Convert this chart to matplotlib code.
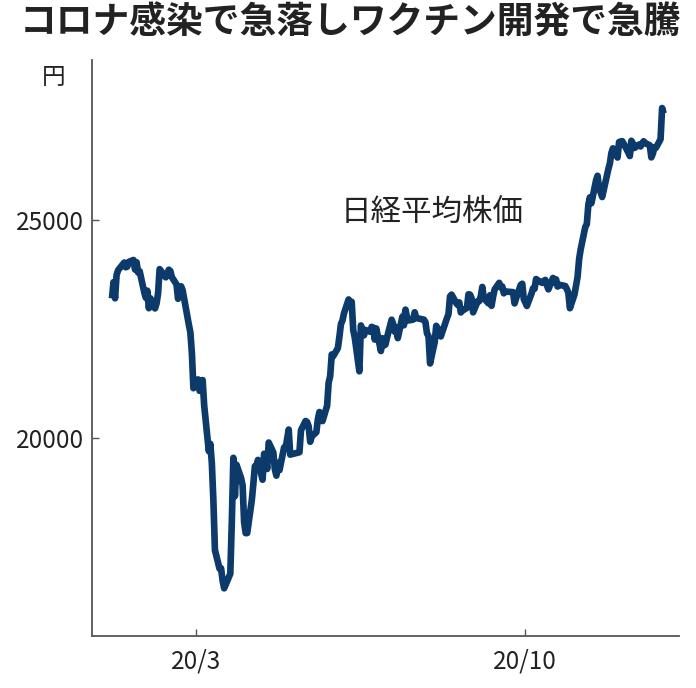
import matplotlib
matplotlib.use("Agg")
import matplotlib.pyplot as plt
from matplotlib import font_manager
import datetime as dt

# ---- data: Nikkei 225 daily closes, 2020 (trading day of month, close in yen)
jan_days = [6, 7, 8, 9, 10, 14, 15, 16, 17, 20, 21, 22, 23, 24, 27, 28, 29, 30, 31]
jan_close = [23204, 23575, 23204, 23739, 23850, 24025, 23916, 23933, 24041, 24083,
             23864, 24031, 23795, 23827, 23343, 23216, 23379, 22977, 23205]
feb_days = [3, 4, 5, 6, 7, 10, 12, 13, 14, 17, 18, 19, 20, 21, 25, 26, 27, 28]
feb_close = [22972, 23084, 23320, 23873, 23828, 23685, 23861, 23827, 23688, 23523,
             23194, 23400, 23479, 23386, 22605, 22426, 21948, 21142]
mar_days = [2, 3, 4, 5, 6, 9, 10, 11, 12, 13, 16, 17, 18, 19, 23, 24, 25, 26, 27, 30, 31]
mar_close = [21344, 21082, 21100, 21329, 20749, 19698, 19867, 19416, 18559, 17431,
             17002, 17011, 16726, 16552, 16887, 18092, 19546, 18665, 19389, 19084, 18917]
apr_days = [1, 2, 3, 6, 7, 8, 9, 10, 13, 14, 15, 16, 17, 20, 21, 22, 23, 24, 27, 28, 30]
apr_close = [18065, 17818, 17820, 18576, 18950, 19353, 19345, 19498, 19043, 19638,
             19550, 19290, 19897, 19669, 19281, 19137, 19429, 19262, 19783, 19771, 20194]
may_days = [1, 7, 8, 11, 12, 13, 14, 15, 18, 19, 20, 21, 22, 25, 26, 27, 28, 29]
may_close = [19619, 19674, 20179, 20390, 20366, 20267, 19914, 20037, 20133, 20433,
             20595, 20552, 20388, 20741, 21271, 21419, 21916, 21877]
jun_days = [1, 2, 3, 4, 5, 8, 9, 10, 11, 12, 15, 16, 17, 18, 19, 22, 23, 24, 25, 26, 29, 30]
jun_close = [22062, 22325, 22613, 22695, 22863, 23178, 23091, 23124, 22472, 22305,
             21530, 22582, 22455, 22355, 22478, 22437, 22549, 22534, 22259, 22512,
             21995, 22288]
jul_days = [1, 2, 3, 6, 7, 8, 9, 10, 13, 14, 15, 16, 17, 20, 21, 22, 27, 28, 29, 30, 31]
jul_close = [22122, 22145, 22306, 22714, 22614, 22438, 22529, 22291, 22784, 22587,
             22945, 22770, 22696, 22717, 22884, 22751, 22715, 22657, 22397, 22339, 21710]
aug_days = [3, 4, 5, 6, 7, 11, 12, 13, 14, 17, 18, 19, 20, 21, 24, 25, 26, 27, 28, 31]
aug_close = [22195, 22573, 22514, 22418, 22329, 22750, 22843, 23249, 23289, 23096,
             23051, 23110, 22880, 22920, 22985, 23296, 23290, 23208, 22882, 23139]
sep_days = [1, 2, 3, 4, 7, 8, 9, 10, 11, 14, 15, 16, 17, 18, 23, 24, 25, 28, 29, 30]
sep_close = [23138, 23247, 23465, 23205, 23089, 23274, 23032, 23235, 23406, 23559,
             23454, 23475, 23319, 23360, 23346, 23087, 23204, 23511, 23539, 23185]
oct_days = [2, 5, 6, 7, 8, 9, 12, 13, 14, 15, 16, 19, 20, 21, 22, 23, 26, 27, 28, 29, 30]
oct_close = [23029, 23312, 23433, 23422, 23647, 23619, 23558, 23601, 23626, 23507,
             23410, 23671, 23567, 23639, 23474, 23516, 23494, 23485, 23418, 23331, 22977]
nov_days = [2, 4, 5, 6, 9, 10, 11, 12, 13, 16, 17, 18, 19, 20, 24, 25, 26, 27, 30]
nov_close = [23295, 23695, 24105, 24325, 24839, 24905, 25349, 25520, 25385, 25906,
             26014, 25728, 25634, 25527, 26165, 26296, 26537, 26644, 26433]
dec_days = [1, 2, 3, 4, 7, 8, 9, 10, 11, 14, 15, 16, 17, 18, 21, 22, 23, 24, 25, 28, 29, 30]
dec_close = [26787, 26800, 26809, 26751, 26547, 26467, 26817, 26756, 26652, 26732,
             26687, 26757, 26806, 26763, 26714, 26436, 26524, 26668, 26656, 26854,
             27568, 27444]

month_days = [jan_days, feb_days, mar_days, apr_days, may_days, jun_days,
              jul_days, aug_days, sep_days, oct_days, nov_days, dec_days]
month_close = [jan_close, feb_close, mar_close, apr_close, may_close, jun_close,
               jul_close, aug_close, sep_close, oct_close, nov_close, dec_close]

title_text = "コロナ感染で急落しワクチン開発で急騰"
series_label = "日経平均株価"
unit_label = "円"
y_ticks = [20000, 25000]
x_tick_dates = [dt.date(2020, 3, 1), dt.date(2020, 10, 1)]
x_tick_labels = ["20/3", "20/10"]

dates, values = [], []
for m, (ds, cs) in enumerate(zip(month_days, month_close), start=1):
    for d, c in zip(ds, cs):
        dates.append(dt.date(2020, m, d))
        values.append(c)

# ---- fonts
installed = {f.name for f in font_manager.fontManager.ttflist}
cjk = "Noto Sans CJK JP"
narrow = "Liberation Sans Narrow" in installed
num_font = "Liberation Sans Narrow" if narrow else cjk
num_size = 20 if narrow else 17.5
plt.rcParams["font.family"] = [cjk, "DejaVu Sans"]

W, H = 696, 688
fig = plt.figure(figsize=(W / 100, H / 100), dpi=100)
ax = fig.add_axes([92 / W, 1 - 636 / H, (679 - 92) / W, (636 - 60) / H])

line_color = "#0c3a6b"
ax.plot(dates, values, color=line_color, lw=4.8, solid_joinstyle="round",
        solid_capstyle="butt")

ax.set_ylim(15459, 28670)
ax.set_xlim(dt.date(2019, 12, 24), dt.date(2021, 1, 9))

for s in ["top", "right"]:
    ax.spines[s].set_visible(False)
for s in ["left", "bottom"]:
    ax.spines[s].set_color("#555555")
    ax.spines[s].set_linewidth(1.3)

ax.set_yticks(y_ticks)
ax.set_yticklabels([str(v) for v in y_ticks], fontsize=num_size,
                   family=[num_font, cjk], color="#222222")
ax.set_xticks(x_tick_dates)
ax.set_xticklabels(x_tick_labels, fontsize=num_size,
                   family=[num_font, cjk], color="#222222")
ax.tick_params(axis="both", direction="in", length=5, width=1.0, color="#555555")
ax.tick_params(axis="y", pad=6)
ax.tick_params(axis="x", pad=9)

fig.text(20 / W, 1 - 23 / H, title_text, fontsize=26.5, fontweight="bold",
         color="#222222", va="center", ha="left")
fig.text(54 / W, 1 - 77 / H, unit_label, fontsize=17, color="#222222",
         va="center", ha="center")
fig.text(432 / W, 1 - 212 / H, series_label, fontsize=22, color="#222222",
         va="center", ha="center")

fig.savefig("out.png", dpi=100, facecolor="white")
